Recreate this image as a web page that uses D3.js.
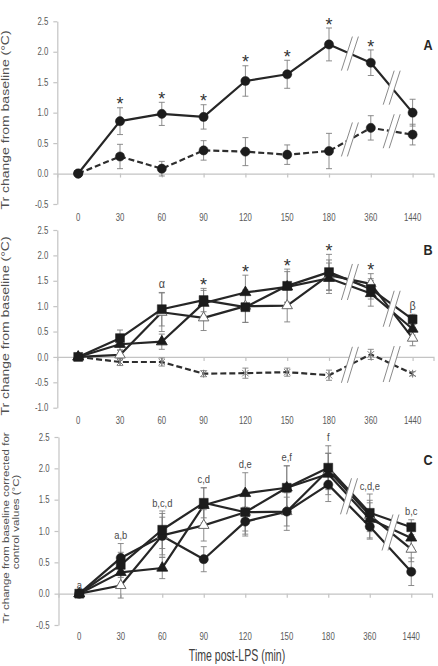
<!DOCTYPE html>
<html><head><meta charset="utf-8">
<script src="https://cdn.jsdelivr.net/npm/d3@7"></script>
<style>html,body{margin:0;padding:0;background:#fff;} svg{display:block;}</style>
</head><body>
<svg id="chart" width="438" height="666"></svg>
<script>
// ---------- data ----------
const categories = ["0", "30", "60", "90", "120", "150", "180", "360", "1440"];
const yTicksA = [-0.5, 0, 0.5, 1.0, 1.5, 2.0, 2.5];
const yTicksB = [-1.0, -0.5, 0, 0.5, 1.0, 1.5, 2.0, 2.5];
const yTicksC = [-0.5, 0, 0.5, 1.0, 1.5, 2.0, 2.5];

// Panel A
const aLPS        = [0, 0.86, 0.98, 0.93, 1.52, 1.63, 2.12, 1.82, 1.00];
const aLPSErr     = [0, 0.22, 0.19, 0.20, 0.25, 0.23, 0.27, 0.21, 0.22];
const aSaline     = [0, 0.28, 0.08, 0.38, 0.36, 0.31, 0.37, 0.75, 0.64];
const aSalineErr  = [0, 0.20, 0.12, 0.16, 0.23, 0.16, 0.29, 0.20, 0.17];
const annotA      = ["", "*", "*", "*", "*", "*", "*", "*", ""];

// Panel B
const bSquare     = [0, 0.37, 0.94, 1.12, 0.98, 1.40, 1.67, 1.34, 0.74];
const bSquareErr  = [0, 0.16, 0.33, 0.23, 0.30, 0.33, 0.35, 0.20, 0.10];
const bTriFilled  = [0, 0.25, 0.30, 1.06, 1.27, 1.38, 1.55, 1.25, 0.55];
const bTriFilledErr = [0, 0.12, 0.15, 0.25, 0.34, 0.30, 0.30, 0.25, 0.12];
const bTriOpen    = [0, 0.04, 0.88, 0.77, 1.00, 1.01, 1.61, 1.44, 0.37];
const bTriOpenErr = [0, 0.10, 0.38, 0.25, 0.32, 0.32, 0.30, 0.20, 0.15];
const bSaline     = [0, -0.10, -0.10, -0.33, -0.32, -0.30, -0.36, 0.05, -0.33];
const bSalineErr  = [0, 0.07, 0.08, 0.06, 0.10, 0.08, 0.10, 0.10, 0.04];
const annotB      = ["", "", "α", "*", "*", "*", "*", "*", "β"];

// Panel C
const cCircle     = [0, 0.57, 0.92, 0.55, 1.15, 1.31, 1.74, 1.07, 0.35];
const cCircleErr  = [0, 0.23, 0.30, 0.20, 0.23, 0.23, 0.27, 0.20, 0.22];
const cSquare     = [0, 0.46, 1.02, 1.45, 1.30, 1.69, 2.01, 1.29, 1.06];
const cSquareErr  = [0, 0.20, 0.30, 0.24, 0.30, 0.35, 0.35, 0.30, 0.12];
const cTriFilled  = [0, 0.34, 0.41, 1.41, 1.60, 1.69, 1.91, 1.19, 0.89];
const cTriFilledErr = [0, 0.20, 0.17, 0.28, 0.33, 0.35, 0.33, 0.30, 0.15];
const cTriOpen    = [0, 0.13, 0.93, 1.09, 1.30, 1.31, 1.97, 1.25, 0.71];
const cTriOpenErr = [0, 0.20, 0.35, 0.25, 0.35, 0.30, 0.27, 0.20, 0.20];
const annotC      = ["a", "a,b", "b,c,d", "c,d", "d,e", "e,f", "f", "c,d,e", "b,c"];

// ---------- rendering ----------
const svg = d3.select("#chart");
svg.append("rect").attr("width", 438).attr("height", 666).attr("fill", "#fff");
const FONT = "'Liberation Sans', Arial, sans-serif";
const LINE = "#262626";
const AXIS = "#c4c4c4";

function txt(g, x, y, s, o = {}) {
  const sx = o.sx ?? 0.82;
  return g.append("text")
    .attr("transform", `translate(${x},${y}) scale(${sx},1)` + (o.rotate ? ` rotate(${o.rotate})` : ""))
    .attr("text-anchor", o.anchor || "middle")
    .attr("font-family", o.family || FONT)
    .attr("font-size", o.size || 10)
    .attr("font-weight", o.weight || "normal")
    .attr("fill", o.fill || "#595959")
    .text(s);
}

const starSymbol = {
  draw(ctx, size) {
    const r = Math.sqrt(size) / 2;
    ctx.moveTo(-r, -r); ctx.lineTo(r, r);
    ctx.moveTo(-r, r); ctx.lineTo(r, -r);
    ctx.moveTo(0, -r * 1.2); ctx.lineTo(0, r * 1.2);
  }
};
const markerDefs = {
  circle:     { type: d3.symbolCircle, size: 66, fill: "#1c1c1c", stroke: "#1c1c1c", sw: 0.5 },
  square:     { type: d3.symbolSquare, size: 80, fill: "#1c1c1c", stroke: "#1c1c1c", sw: 0.5 },
  triFilled:  { type: d3.symbolTriangle, size: 52, fill: "#1c1c1c", stroke: "#1c1c1c", sw: 0.8 },
  triOpen:    { type: d3.symbolTriangle, size: 48, fill: "#ffffff", stroke: "#6a6a6a", sw: 1 },
  star:       { type: starSymbol, size: 42, fill: "none", stroke: "#7a7a7a", sw: 1 }
};

function drawPanel(cfg) {
  const g = svg.append("g");
  const x = d3.scalePoint().domain(categories).range(cfg.xRange).padding(0.5);
  const y = d3.scaleLinear().domain(cfg.yDomain).range(cfg.yRange);

  // y axis
  const ya = g.append("g").attr("transform", `translate(${cfg.xRange[0]},0)`)
    .call(d3.axisLeft(y).tickValues(cfg.yTicks).tickSize(4).tickSizeOuter(0)
      .tickFormat(d => d3.format(".1f")(d).replace("−", "-")));
  ya.select(".domain").attr("stroke", AXIS).attr("stroke-width", 1.2);
  ya.selectAll(".tick line").attr("stroke", AXIS).attr("stroke-width", 1.2);
  ya.selectAll(".tick text")
    .attr("font-family", FONT).attr("font-size", 10).attr("fill", "#5a5a5a")
    .attr("x", -9 / 0.78).attr("transform", "scale(0.78,1)");

  // x axis at y = 0
  const xa = g.append("g").attr("transform", `translate(0,${y(0)})`)
    .call(d3.axisBottom(x).tickSize(4).tickSizeOuter(4).tickFormat(""));
  xa.select(".domain").attr("stroke", AXIS).attr("stroke-width", 1.2);
  xa.selectAll(".tick line").attr("stroke", AXIS).attr("stroke-width", 1.2);
  categories.forEach(c => txt(g, x(c), cfg.labelY, c, { size: 10, sx: 0.78, fill: "#5a5a5a" }));

  const line = d3.line().x((d, i) => x(categories[i])).y(d => y(d));

  // lines
  cfg.series.forEach(s => {
    g.append("path").attr("d", line(s.values)).attr("fill", "none")
      .attr("stroke", s.dashed ? "#2e2e2e" : LINE).attr("stroke-width", 2.2)
      .attr("stroke-dasharray", s.dashed ? "6,3" : null)
      .attr("stroke-linejoin", "round");
  });

  // axis breaks (drawn over lines)
  cfg.breakGroups.forEach(grp => {
    [[6, 7], [7, 8]].forEach(([i, j]) => {
      const cx = (x(categories[i]) + x(categories[j])) / 2;
      const cy = d3.mean(grp, s => y((s.values[i] + s.values[j]) / 2));
      const h = cfg.breakH / 2, dx = 5.5, gap = 3;
      const pts = [[cx - gap - dx, cy + h], [cx - gap + dx, cy - h], [cx + gap + dx, cy - h], [cx + gap - dx, cy + h]];
      g.append("polygon").attr("points", pts.map(p => p.join(",")).join(" ")).attr("fill", "#fff");
      g.append("line").attr("x1", pts[0][0]).attr("y1", pts[0][1]).attr("x2", pts[1][0]).attr("y2", pts[1][1])
        .attr("stroke", "#8a8a8a").attr("stroke-width", 1);
      g.append("line").attr("x1", pts[3][0]).attr("y1", pts[3][1]).attr("x2", pts[2][0]).attr("y2", pts[2][1])
        .attr("stroke", "#8a8a8a").attr("stroke-width", 1);
    });
  });

  // error bars
  cfg.series.forEach(s => {
    s.values.forEach((v, i) => {
      const e = s.err[i];
      if (!e) return;
      const cx = x(categories[i]);
      const eb = g.append("g").attr("stroke", "#7f7f7f").attr("stroke-width", 0.9);
      eb.append("line").attr("x1", cx).attr("x2", cx).attr("y1", y(v - e)).attr("y2", y(v + e));
      eb.append("line").attr("x1", cx - 3).attr("x2", cx + 3).attr("y1", y(v - e)).attr("y2", y(v - e));
      eb.append("line").attr("x1", cx - 3).attr("x2", cx + 3).attr("y1", y(v + e)).attr("y2", y(v + e));
    });
  });

  // markers
  cfg.series.forEach(s => {
    const m = markerDefs[s.marker];
    g.selectAll(null).data(s.values).enter().append("path")
      .attr("d", d3.symbol().type(m.type).size(m.size)())
      .attr("transform", (d, i) => `translate(${x(categories[i])},${y(d)})`)
      .attr("fill", m.fill).attr("stroke", m.stroke).attr("stroke-width", m.sw);
  });

  // annotations
  cfg.annot.forEach((a, i) => {
    if (!a) return;
    const top = d3.max(cfg.annotSeries, s => s.values[i] + s.err[i]);
    const c = y(top) - 8;
    if (a === "*") txt(g, x(categories[i]), c + 10.6, a, { size: 18, sx: 1, fill: "#333" });
    else if (a === "α" || a === "β") txt(g, x(categories[i]), c + 4, a, { size: 12, sx: 0.9, fill: "#4a4a4a" });
    else txt(g, x(categories[i]), c + 3.6, a, { size: 11, sx: 0.85, fill: "#4a4a4a" });
  });

  // panel letter
  txt(g, 428, cfg.letterY, cfg.letter, { size: 14, sx: 0.9, weight: "bold", fill: "#262626" });
  return { x, y };
}

const sA = [
  { values: aLPS, err: aLPSErr, marker: "circle" },
  { values: aSaline, err: aSalineErr, marker: "circle", dashed: true }
];
drawPanel({
  xRange: [57.3, 433.5], yDomain: [-0.5, 2.5], yRange: [204, 21.3], yTicks: yTicksA,
  labelY: 220.5, series: sA, breakGroups: [[sA[0]], [sA[1]]], breakH: 34,
  annot: annotA, annotSeries: [sA[0]], letter: "A", letterY: 50
});

const sB = [
  { values: bSaline, err: bSalineErr, marker: "star", dashed: true },
  { values: bTriOpen, err: bTriOpenErr, marker: "triOpen" },
  { values: bTriFilled, err: bTriFilledErr, marker: "triFilled" },
  { values: bSquare, err: bSquareErr, marker: "square" }
];
drawPanel({
  xRange: [57.3, 433.5], yDomain: [-1.0, 2.5], yRange: [407.7, 230], yTicks: yTicksB,
  labelY: 423.5, series: sB, breakGroups: [[sB[1], sB[2], sB[3]], [sB[0]]], breakH: 36,
  annot: annotB, annotSeries: [sB[1], sB[2], sB[3]], letter: "B", letterY: 254.5
});

const sC = [
  { values: cTriOpen, err: cTriOpenErr, marker: "triOpen" },
  { values: cCircle, err: cCircleErr, marker: "circle" },
  { values: cTriFilled, err: cTriFilledErr, marker: "triFilled" },
  { values: cSquare, err: cSquareErr, marker: "square" }
];
drawPanel({
  xRange: [58.5, 432], yDomain: [-0.5, 2.5], yRange: [625, 437], yTicks: yTicksC,
  labelY: 640, series: sC, breakGroups: [sC], breakH: 36,
  annot: annotC, annotSeries: sC, letter: "C", letterY: 465
});

// axis titles
const t = svg.append("g");
txt(t, 9, 120, "Tr change from baseline (°C)", { size: 14, sx: 0.8, rotate: -90, fill: "#505050" });
txt(t, 9, 326, "Tr change from baseline (°C)", { size: 14, sx: 0.8, rotate: -90, fill: "#505050" });
txt(t, 9, 528, "Tr change from baseline corrected for", { size: 11.5, sx: 0.8, rotate: -90, fill: "#505050" });
txt(t, 18.5, 522, "control values (°C)", { size: 11.5, sx: 0.8, rotate: -90, fill: "#505050" });
txt(t, 237, 661, "Time post-LPS (min)", { size: 16, sx: 0.66, fill: "#404040" });
</script>
</body></html>
